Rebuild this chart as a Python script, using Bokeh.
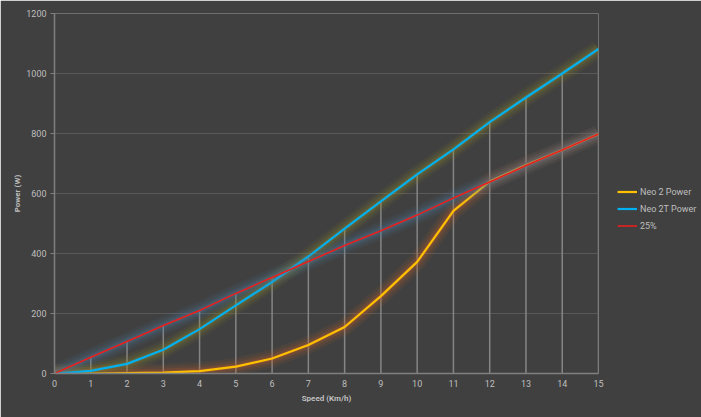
from bokeh.plotting import figure
from bokeh.models import Range1d, FixedTicker, Legend, LegendItem
from bokeh.embed import file_html
from bokeh.resources import INLINE
import numpy as np

speed = [0, 1, 2, 3, 4, 5, 6, 7, 8, 9, 10, 11, 12, 13, 14, 15]
neo2 = [0, 0, 1, 3, 8, 23, 50, 95, 155, 258, 372, 542, 640, 695, 745, 798]
neo2t = [0, 9, 32, 79, 148, 227, 305, 390, 483, 574, 664, 747, 838, 920, 1000, 1082]
pct25 = [0, 54, 107, 160, 210, 267, 320, 373, 427, 476, 528, 585, 638, 693, 745, 798]
y_ticks = [0, 200, 400, 600, 800, 1000, 1200]

BG = "#404040"
TXT = "#bfbfbf"
FONT = "Roboto"

p = figure(frame_width=544, frame_height=360, output_backend="svg", toolbar_location=None,
           x_range=Range1d(0, 15), y_range=Range1d(0, 1200),
           min_border_left=54, min_border_right=103, min_border_top=13, min_border_bottom=44)
p.background_fill_color = BG
p.border_fill_color = BG
p.outline_line_color = None

p.xgrid.grid_line_color = None
p.ygrid.grid_line_color = "#595959"
p.ygrid.grid_line_width = 1
p.ygrid.ticker = FixedTicker(ticks=y_ticks)

p.xaxis.ticker = FixedTicker(ticks=speed)
p.yaxis.ticker = FixedTicker(ticks=y_ticks)
for ax in (p.xaxis, p.yaxis):
    ax.axis_line_color = "#7f7f7f"
    ax.axis_line_width = 1.5
    ax.major_tick_line_color = "#7f7f7f"
    ax.minor_tick_line_color = None
    ax.major_label_text_color = TXT
    ax.major_label_text_font = FONT
    ax.major_label_text_font_size = "9px"
    ax.axis_label_text_color = TXT
    ax.axis_label_text_font = FONT
    ax.axis_label_text_font_size = "8px"
    ax.axis_label_text_font_style = "bold"
p.xaxis.major_tick_out = 0
p.xaxis.major_tick_in = 0
p.yaxis.major_tick_out = 4
p.yaxis.major_tick_in = 0
p.xaxis.axis_label = "Speed (Km/h)"
p.yaxis.axis_label = "Power (W)"
p.xaxis.major_label_standoff = 6
p.yaxis.major_label_standoff = 4
p.xaxis.axis_label_standoff = 4
p.yaxis.axis_label_standoff = 1

# drop lines
top = np.maximum(np.maximum(neo2, neo2t), pct25)
p.segment(x0=speed, y0=[0] * len(speed), x1=speed, y1=top, line_color="#858585", line_width=1.5)

series = [
    (neo2, "#FFC000", "#c8602a", 2.2, "Neo 2 Power"),
    (neo2t, "#00B0F0", "#8f8c2a", 2.2, "Neo 2T Power"),
    (pct25, "#E8201C", "#4e7aa0", 1.6, "25%"),
]
items = []
for ys, col, glow, w, lab in series:
    for gw, ga in ((18, 0.08), (13, 0.12), (8, 0.18), (4, 0.25)):
        p.line(speed, ys, line_color=glow, line_width=gw, line_alpha=ga, line_join="round")
    r = p.line(speed, ys, line_color=col, line_width=w, line_join="round")
    items.append(LegendItem(label=lab, renderers=[r]))

legend = Legend(items=items, location=(19, 141), orientation="vertical")
legend.background_fill_alpha = 0
legend.border_line_color = None
legend.label_text_color = TXT
legend.label_text_font = FONT
legend.label_text_font_size = "9px"
legend.glyph_width = 20
legend.glyph_height = 13
legend.spacing = 4
legend.label_standoff = 3
legend.padding = 0
legend.margin = 0
p.add_layout(legend, "right")

open("out.html", "w").write(file_html(p, INLINE))
